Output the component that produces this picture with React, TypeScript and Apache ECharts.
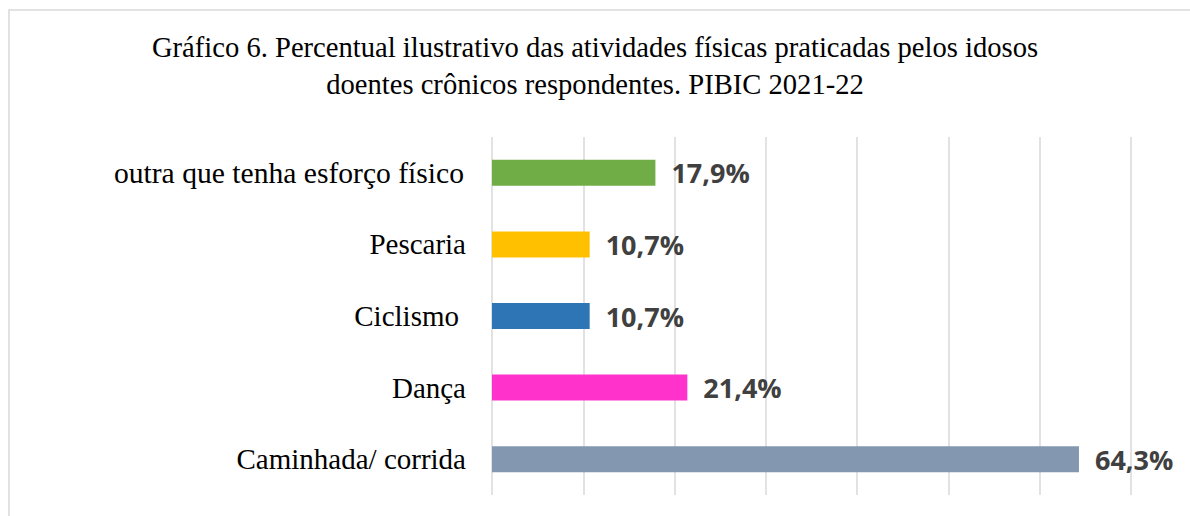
import React, { useEffect, useRef } from "react";
import * as echarts from "echarts";

const TITLE_LINES = [
  "Gráfico 6. Percentual ilustrativo das atividades físicas praticadas pelos idosos",
  "doentes crônicos respondentes. PIBIC 2021-22",
];
// bottom to top
const categories = [
  "Caminhada/ corrida",
  "Dança",
  "Ciclismo",
  "Pescaria",
  "outra que tenha esforço físico",
];
const values = [64.3, 21.4, 10.7, 10.7, 17.9];
const colors = ["#8497B0", "#FF33CC", "#2E75B6", "#FFC000", "#70AD47"];

export default function App() {
  const ref = useRef<HTMLDivElement>(null);
  useEffect(() => {
    if (!ref.current) return;
    const chart = echarts.init(ref.current, null, { renderer: "svg" });
    chart.setOption({
      animation: false,
      backgroundColor: "#ffffff",
      title: {
        text: TITLE_LINES.join("\n"),
        left: "center",
        top: 24,
        textStyle: {
          fontFamily: "Liberation Serif",
          fontSize: 28.6,
          fontWeight: "normal",
          lineHeight: 37,
          color: "#000000",
        },
      },
      graphic: [
        {
          type: "rect",
          shape: { x: 9, y: 10, width: 1400, height: 700 },
          style: { fill: "none", stroke: "#d9d9d9", lineWidth: 1.5 },
          silent: true,
        },
      ],
      grid: { left: 492, right: 59, top: 137, bottom: 21, containLabel: false },
      xAxis: {
        type: "value",
        min: 0,
        max: 70,
        interval: 10,
        axisLabel: { show: false },
        axisLine: { show: false },
        axisTick: { show: false },
        splitLine: { show: true, lineStyle: { color: "#d9d9d9", width: 1.5 } },
      },
      yAxis: {
        type: "category",
        data: categories,
        axisLine: { show: false },
        axisTick: { show: false },
        axisLabel: {
          margin: 26,
          color: "#000000",
          fontFamily: "Liberation Serif",
          fontSize: 29,
          formatter: (name: string) =>
            name === "Ciclismo"
              ? `{c|${name}}`
              : name.startsWith("outra")
              ? `{o|${name}}`
              : `{n|${name}}`,
          rich: {
            n: { fontFamily: "Liberation Serif", fontSize: 29, color: "#000000" },
            c: {
              fontFamily: "Liberation Serif",
              fontSize: 29,
              color: "#000000",
              padding: [0, 7, 0, 0],
            },
            o: {
              fontFamily: "Liberation Serif",
              fontSize: 29.6,
              color: "#000000",
              padding: [0, 2, 0, 0],
            },
          },
        },
      },
      series: [
        {
          type: "bar",
          barWidth: 26,
          data: values.map((v, i) => ({ value: v, itemStyle: { color: colors[i] } })),
          label: {
            show: true,
            position: "right",
            distance: 16,
            fontFamily: "Open Sans",
            fontWeight: "bold",
            fontSize: 27,
            color: "#404040",
            formatter: (p: any) => p.value.toFixed(1).replace(".", ",") + "%",
          },
        },
      ],
    });
    return () => chart.dispose();
  }, []);
  return (
    <div
      ref={ref}
      style={{ position: "absolute", left: 0, top: 0, width: 1190, height: 516 }}
    />
  );
}
